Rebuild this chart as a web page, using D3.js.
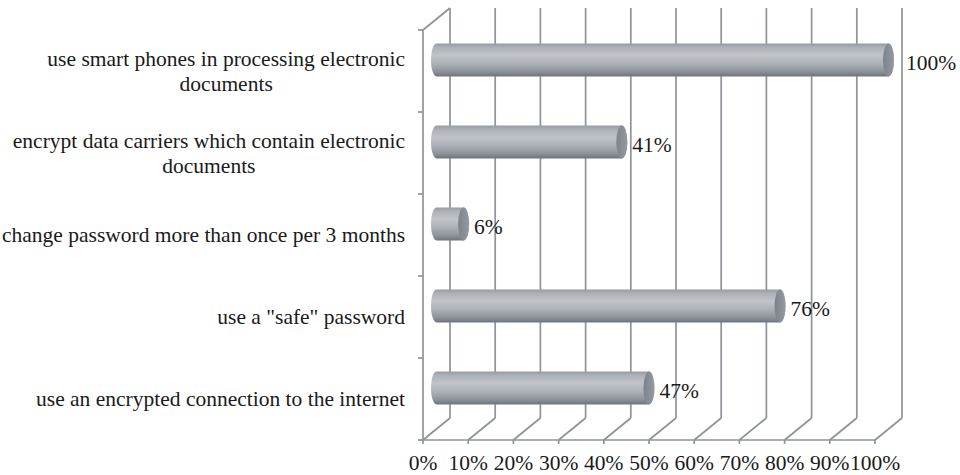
<!DOCTYPE html>
<html>
<head>
<meta charset="utf-8">
<script src="https://cdn.jsdelivr.net/npm/d3@7"></script>
<style>
  html, body { margin: 0; padding: 0; background: #ffffff; }
  svg { display: block; }
  text { font-family: "Liberation Serif", "Times New Roman", serif; fill: #1a1a1a; }
</style>
</head>
<body>
<svg id="chart" width="960" height="475"></svg>
<script>
// ---- data ----
const categories = [
  "use smart phones in processing electronic\ndocuments",
  "encrypt data carriers which contain electronic\ndocuments",
  "change password more than once per 3 months",
  "use a \"safe\" password",
  "use an encrypted connection to the internet"
];
const values = [1.00, 0.41, 0.06, 0.76, 0.47];
const valueLabels = ["100%", "41%", "6%", "76%", "47%"];
const tickValues = [0, 0.1, 0.2, 0.3, 0.4, 0.5, 0.6, 0.7, 0.8, 0.9, 1.0];
const tickLabels = ["0%", "10%", "20%", "30%", "40%", "50%", "60%", "70%", "80%", "90%", "100%"];

// ---- layout ----
const svg = d3.select("#chart");
const depthX = 27, depthY = -22;
const x = d3.scaleLinear().domain([0, 1]).range([423, 875]);
const y = d3.scaleBand().domain(categories).range([30, 440]).padding(0);
const gridColor = "#8d9399";
const fontSize = 21.5;

// gradients
const defs = svg.append("defs");
const g1 = defs.append("linearGradient").attr("id", "barGrad")
  .attr("x1", 0).attr("y1", 0).attr("x2", 0).attr("y2", 1);
[["0%", "#979ca2"], ["12%", "#adb2b8"], ["35%", "#c0c4c9"], ["60%", "#adb2b8"], ["85%", "#8d9399"], ["100%", "#6e747b"]]
  .forEach(([o, c]) => g1.append("stop").attr("offset", o).attr("stop-color", c));
const g2 = defs.append("linearGradient").attr("id", "capGrad")
  .attr("x1", 0).attr("y1", 0).attr("x2", 1).attr("y2", 0);
[["0%", "#7d838a"], ["100%", "#949aa0"]]
  .forEach(([o, c]) => g2.append("stop").attr("offset", o).attr("stop-color", c));

const grid = svg.append("g").attr("fill", "none").attr("stroke", gridColor).attr("stroke-width", 1.7);

// back wall vertical gridlines + floor diagonals
tickValues.forEach(t => {
  const fx = x(t), bx = x(t) + depthX;
  grid.append("line").attr("x1", bx).attr("x2", bx).attr("y1", y.range()[0] + depthY).attr("y2", y.range()[1] + depthY);
  grid.append("line").attr("x1", fx).attr("y1", y.range()[1]).attr("x2", bx).attr("y2", y.range()[1] + depthY);
  grid.append("line").attr("x1", fx).attr("x2", fx).attr("y1", y.range()[1]).attr("y2", y.range()[1] + 4);
});
// front floor edge
grid.append("line").attr("x1", x(0)).attr("x2", x(1)).attr("y1", y.range()[1]).attr("y2", y.range()[1]);
// left wall: front vertical edge and top diagonal
grid.append("line").attr("x1", x(0)).attr("x2", x(0)).attr("y1", y.range()[0]).attr("y2", y.range()[1]);
grid.append("line").attr("x1", x(0)).attr("y1", y.range()[0]).attr("x2", x(0) + depthX).attr("y2", y.range()[0] + depthY);
// category tick marks on left wall
const boundaries = categories.map(c => y(c)).concat([y.range()[1]]);
boundaries.forEach(b => {
  grid.append("line").attr("x1", x(0) - 5).attr("x2", x(0)).attr("y1", b).attr("y2", b);
});

// ---- bars (cylinders) ----
const rx = 5.5;
const barH = y.bandwidth() * 0.4;
const bars = svg.append("g");
categories.forEach((c, i) => {
  const cy = y(c) + y.bandwidth() / 2 + depthY / 2;
  const x0 = x(0) + depthX / 2;
  const x1 = x(values[i]) + depthX / 2;
  const h = barH / 2;
  const p = d3.path();
  const k = 0.5523;
  p.moveTo(x0, cy - h);
  p.lineTo(x1, cy - h);
  p.bezierCurveTo(x1 + rx * k, cy - h, x1 + rx, cy - h * k, x1 + rx, cy);
  p.bezierCurveTo(x1 + rx, cy + h * k, x1 + rx * k, cy + h, x1, cy + h);
  p.lineTo(x0, cy + h);
  p.bezierCurveTo(x0 - rx * k, cy + h, x0 - rx, cy + h * k, x0 - rx, cy);
  p.bezierCurveTo(x0 - rx, cy - h * k, x0 - rx * k, cy - h, x0, cy - h);
  p.closePath();
  bars.append("path").attr("d", p.toString()).attr("fill", "url(#barGrad)");
  bars.append("ellipse").attr("cx", x1).attr("cy", cy).attr("rx", rx).attr("ry", h)
    .attr("fill", "url(#capGrad)");

  // value label
  const backWall = x(1) + depthX;
  let lx = x1 + rx + 5;
  if (lx < backWall + 4 && lx + 30 > backWall) lx = backWall + 4;
  svg.append("text").attr("x", lx).attr("y", cy + 3)
    .attr("dominant-baseline", "central")
    .attr("font-size", fontSize).text(valueLabels[i]);
});

// ---- axis tick labels ----
const tl = svg.append("g");
tickValues.forEach((t, i) => {
  tl.append("text").attr("x", x(t)).attr("y", 463)
    .attr("text-anchor", "middle").attr("dominant-baseline", "central")
    .attr("font-size", fontSize).text(tickLabels[i]);
});

// ---- category labels ----
const labelRight = 405;
const lineH = 25;
categories.forEach(c => {
  const lines = c.split("\n");
  const g = svg.append("g");
  const cy = y(c) + y.bandwidth() / 2;
  const texts = lines.map((ln, j) => g.append("text")
    .attr("font-size", fontSize)
    .attr("dominant-baseline", "central")
    .attr("text-anchor", "middle")
    .attr("y", cy + (j - (lines.length - 1) / 2) * lineH)
    .text(ln));
  const maxW = d3.max(texts, t => t.node().getComputedTextLength());
  texts.forEach(t => t.attr("x", labelRight - maxW / 2));
});
</script>
</body>
</html>
